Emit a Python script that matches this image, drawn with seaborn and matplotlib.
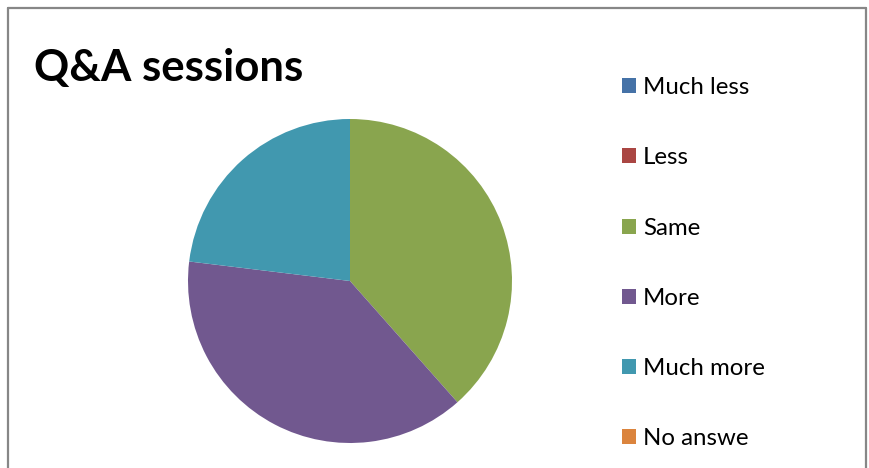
import matplotlib
matplotlib.use("Agg")
import matplotlib.pyplot as plt
from matplotlib.patches import Patch
from matplotlib.lines import Line2D
import seaborn as sns

categories = ["Much less", "Less", "Same", "More", "Much more", "No answe"]
counts = [0, 0, 5, 5, 3, 0]
colors = ["#4572A7", "#AA4643", "#89A54E", "#71588F", "#4198AF", "#DB843D"]

sns.set_theme(style="white")
plt.rcParams["font.family"] = ["Lato", "DejaVu Sans"]

W, H = 870, 468
fig = plt.figure(figsize=(W / 100, H / 100), dpi=100)
fig.patch.set_facecolor("white")

# chart frame: left, top and right edges
frame_kw = dict(color="#878787", linewidth=1.6, transform=fig.transFigure)
fig.add_artist(Line2D([8.5 / W, 8.5 / W], [0, 1 - 7.5 / H], **frame_kw))
fig.add_artist(Line2D([8.5 / W, 866.5 / W], [1 - 7.5 / H, 1 - 7.5 / H], **frame_kw))
fig.add_artist(Line2D([866.5 / W, 866.5 / W], [0, 1 - 7.5 / H], **frame_kw))

# pie axes
cx, cy, r = 350, 281, 162
ax = fig.add_axes([(cx - r) / W, (H - cy - r) / H, 2 * r / W, 2 * r / H])
ax.pie(counts, colors=colors, startangle=90, counterclock=False,
       radius=1.0, wedgeprops=dict(linewidth=0))
ax.set_xlim(-1, 1)
ax.set_ylim(-1, 1)
ax.set_aspect("equal")
ax.axis("off")

fig.text(34 / W, 1 - 68 / H, "Q&A sessions", fontsize=31.5, fontweight="bold",
         ha="left", va="center", color="black")

handles = [Patch(facecolor=c, edgecolor="none") for c in colors]
leg = fig.legend(handles, categories, loc="upper left",
                 bbox_to_anchor=(622 / W, 1 - 77 / H),
                 frameon=False, fontsize=17.3, handlelength=0.58,
                 handleheight=0.58, handletextpad=0.3,
                 labelspacing=2.05, borderpad=0, borderaxespad=0)
for t in leg.get_texts():
    t.set_color("black")

fig.savefig("out.png", dpi=100, facecolor="white")
